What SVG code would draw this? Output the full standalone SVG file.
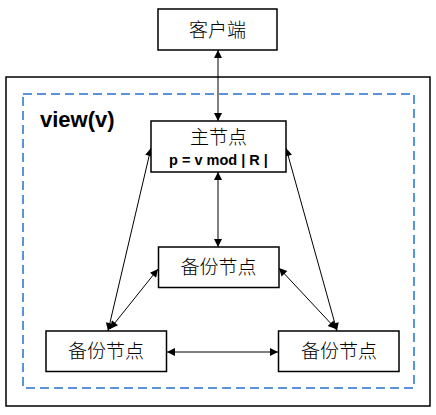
<svg xmlns="http://www.w3.org/2000/svg" width="436" height="415" viewBox="0 0 436 415">
<defs>
<marker id="ah" viewBox="0 0 10 10" refX="10" refY="5" markerWidth="9" markerHeight="8" markerUnits="userSpaceOnUse" orient="auto-start-reverse">
<path d="M0,0 L10,5 L0,10 z" fill="#000"/>
</marker>
<style>
.box{fill:#fff;stroke:#000;stroke-width:1.5}
.cn{font-family:"Noto Sans CJK SC","Noto Sans",sans-serif;font-size:19px;fill:#000;text-anchor:middle;font-weight:300}
.lk{stroke:#000;stroke-width:1;fill:none;marker-start:url(#ah);marker-end:url(#ah)}
</style>
</defs>
<rect width="436" height="415" fill="#fff"/>
<rect x="6" y="77" width="424" height="329" fill="none" stroke="#000" stroke-width="1.5"/>
<rect x="23" y="94" width="391" height="294" fill="none" stroke="#5b93d9" stroke-width="2" stroke-dasharray="9,5"/>
<text x="40" y="127" font-family="Liberation Sans, Arial, sans-serif" font-weight="bold" font-size="22">view(v)</text>
<g id="connectors">
<line class="lk" x1="218" y1="50" x2="218" y2="121"/>
<line class="lk" x1="218" y1="172" x2="218" y2="247"/>
<line class="lk" x1="151" y1="148" x2="108" y2="331"/>
<line class="lk" x1="286" y1="148" x2="337" y2="331"/>
<line class="lk" x1="158" y1="269" x2="110" y2="329"/>
<line class="lk" x1="279" y1="268" x2="336" y2="329"/>
<line class="lk" x1="167" y1="352" x2="278" y2="352"/>
</g>
<g id="client">
<rect class="box" x="158" y="9" width="119" height="41"/>
<text class="cn" x="217.5" y="36.5">客户端</text>
</g>
<g id="primary">
<rect class="box" x="151" y="121" width="135" height="51"/>
<text class="cn" x="218.5" y="143.5">主节点</text>
<text x="218.5" y="165" font-family="Liberation Sans, Arial, sans-serif" font-weight="bold" font-size="14.5" text-anchor="middle">p = v mod | R |</text>
</g>
<g id="backup-mid">
<rect class="box" x="158.5" y="247" width="120.5" height="40.5"/>
<text class="cn" x="218.5" y="274">备份节点</text>
</g>
<g id="backup-left">
<rect class="box" x="46" y="331" width="120.5" height="40.5"/>
<text class="cn" x="106" y="358">备份节点</text>
</g>
<g id="backup-right">
<rect class="box" x="278.5" y="331" width="120.5" height="40.5"/>
<text class="cn" x="339" y="358">备份节点</text>
</g>
</svg>
